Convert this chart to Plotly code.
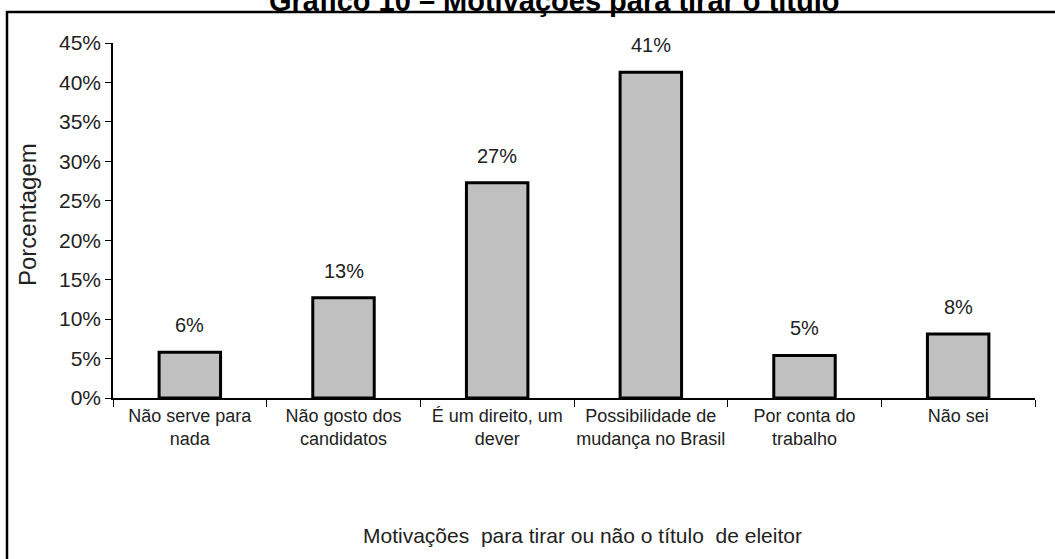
import plotly.graph_objects as go

categories = ["Não serve para<br>nada", "Não gosto dos<br>candidatos", "É um direito, um<br>dever",
              "Possibilidade de<br>mudança no Brasil", "Por conta do<br>trabalho", "Não sei"]
values = [0.058, 0.127, 0.273, 0.413, 0.054, 0.081]
labels = ["6%", "13%", "27%", "41%", "5%", "8%"]
y_ticks = [0, 0.05, 0.10, 0.15, 0.20, 0.25, 0.30, 0.35, 0.40, 0.45]

FONT = "Liberation Sans Narrow, Arial Narrow, Liberation Sans, Arial, sans-serif"

fig = go.Figure()
fig.add_trace(go.Bar(
    x=categories, y=values, width=0.40,
    marker=dict(color="#c0c0c0", line=dict(color="black", width=3)),
    hoverinfo="skip",
))

for c, v, t in zip(categories, values, labels):
    fig.add_annotation(x=c, y=v, text=t, showarrow=False, yanchor="middle", xanchor="center",
                       yshift=27, font=dict(size=20, color="#222", family=FONT))

L, R, T, B = 113, 20, 43, 161
W, H = 1055, 559
pw, ph = W - L - R, H - T - B

def px_x(p):
    return (p - L) / pw

def px_y(p):
    return (H - B - p) / ph

fig.add_shape(type="rect", xref="paper", yref="paper",
              x0=px_x(7), x1=px_x(1070), y0=px_y(12), y1=px_y(580),
              line=dict(color="black", width=2.5), fillcolor="rgba(0,0,0,0)", layer="below")

fig.add_annotation(xref="paper", yref="paper", x=px_x(554), y=px_y(1),
                   xanchor="center", yanchor="middle",
                   text="<b>Gráfico 10 – Motivações para tirar o título</b>", showarrow=False,
                   font=dict(size=29, color="black", family="Liberation Sans, Arial, sans-serif"))
fig.add_annotation(xref="paper", yref="paper", x=px_x(27), y=px_y(215),
                   xanchor="center", yanchor="middle",
                   text="Porcentagem", textangle=-90, showarrow=False,
                   font=dict(size=24, color="#222", family=FONT))
fig.add_annotation(xref="paper", yref="paper", x=px_x(582), y=px_y(535),
                   xanchor="center", yanchor="middle",
                   text="Motivações  para tirar ou não o título  de eleitor", showarrow=False,
                   font=dict(size=21, color="#222", family=FONT))

fig.update_layout(
    width=W, height=H,
    margin=dict(l=L, r=R, t=T, b=B),
    paper_bgcolor="white", plot_bgcolor="white",
    showlegend=False,
    bargap=0.6,
)
fig.update_yaxes(range=[0, 0.45], tickvals=y_ticks, tickformat=".0%",
                 showgrid=False, zeroline=False, showline=True, linecolor="black", linewidth=1.5,
                 ticks="outside", ticklen=6, tickcolor="black",
                 tickfont=dict(size=21, color="#222", family=FONT))
fig.update_xaxes(showgrid=False, showline=True, linecolor="black", linewidth=2,
                 ticks="outside", tickson="boundaries", ticklen=7, tickcolor="black",
                 tickfont=dict(size=18, color="#222", family=FONT), tickangle=0)

fig.write_html("out.html", config={"displayModeBar": False},
               post_script="document.body.style.margin='0';document.body.style.overflow='hidden';")
